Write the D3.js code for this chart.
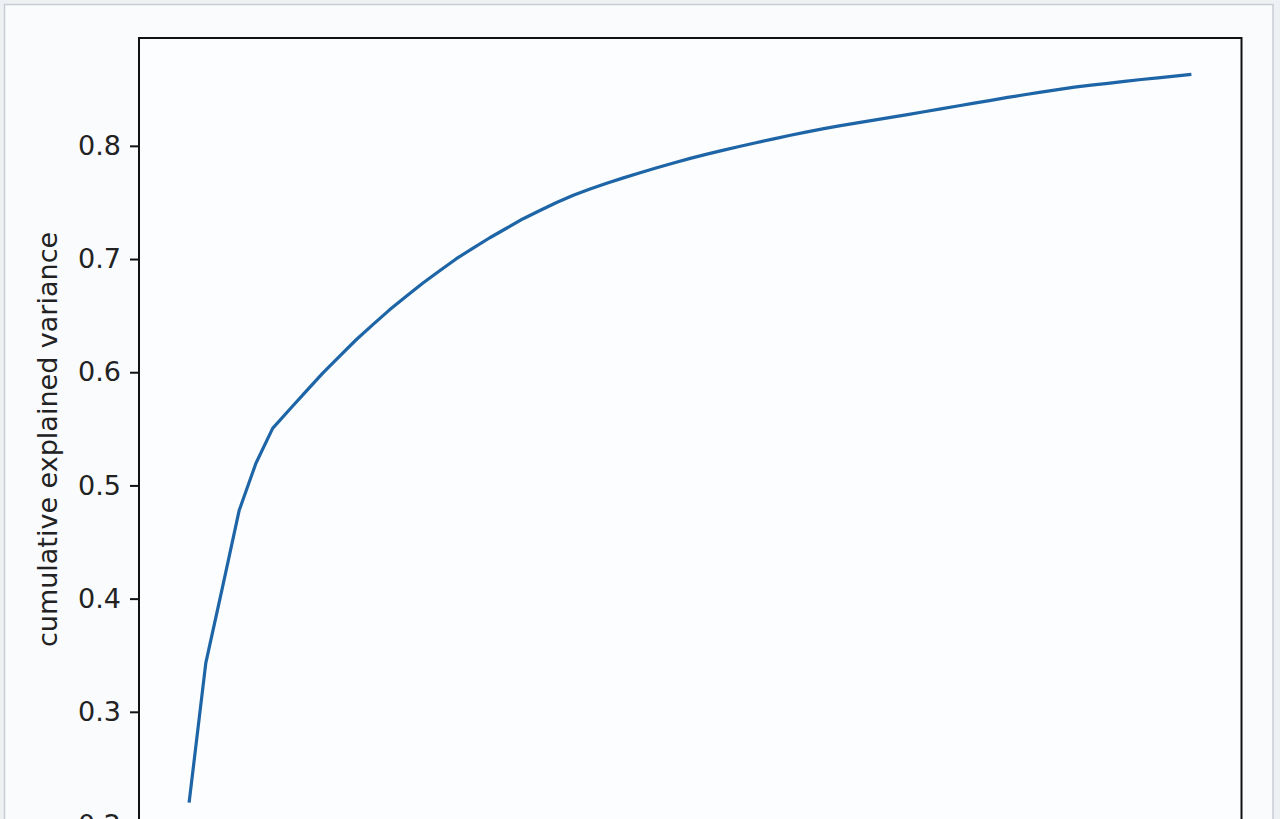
<!DOCTYPE html>
<html>
<head>
<meta charset="utf-8">
<script src="https://cdn.jsdelivr.net/npm/d3@7/dist/d3.min.js"></script>
<style>
  html, body { margin: 0; padding: 0; background: #eef1f4; overflow: hidden; }
  svg { display: block; }
  text { font-family: "DejaVu Sans", sans-serif; }
</style>
</head>
<body>
<svg id="chart" width="1280" height="819"></svg>
<script>
// number of components (index) and cumulative explained variance
const components = d3.range(0, 61);
const cumulativeVariance = [
  0.2198, 0.3432, 0.4102, 0.4781, 0.5196, 0.5504, 0.5669, 0.5831, 0.5992, 0.6141,
  0.6287, 0.6421, 0.6551, 0.6671, 0.6788, 0.6897, 0.7003, 0.7097, 0.7188, 0.7272,
  0.7356, 0.7429, 0.7499, 0.7563, 0.7619, 0.7670, 0.7717, 0.7763, 0.7807, 0.7849,
  0.7889, 0.7927, 0.7962, 0.7996, 0.8029, 0.8062, 0.8093, 0.8123, 0.8152, 0.8178,
  0.8203, 0.8227, 0.8251, 0.8276, 0.8301, 0.8326, 0.8352, 0.8377, 0.8402, 0.8428,
  0.8451, 0.8474, 0.8496, 0.8518, 0.8536, 0.8552, 0.8569, 0.8586, 0.8601, 0.8616,
  0.8631
];
const yTicks = [0.2, 0.3, 0.4, 0.5, 0.6, 0.7, 0.8];
const yLabel = "cumulative explained variance";

(function () {
  const svg = d3.select("#chart");

  // page frame
  svg.append("rect").attr("x", 0).attr("y", 0).attr("width", 1280).attr("height", 819).attr("fill", "#eef1f4");
  svg.append("rect")
    .attr("x", 4.5).attr("y", 4.5).attr("width", 1268.5).attr("height", 840)
    .attr("fill", "#f9fbfd").attr("stroke", "#c9cdd3").attr("stroke-width", 1.5);

  const pLeft = 139, pRight = 1241.5, pTop = 38, pBottom = 839;

  const n = components.length - 1;
  const x = d3.scaleLinear()
    .domain([components[0] - 0.05 * n, components[n] + 0.05 * n])
    .range([pLeft, pRight]);

  const yMin = d3.min(cumulativeVariance), yMax = d3.max(cumulativeVariance);
  const yPad = 0.05 * (yMax - yMin);
  const y = d3.scaleLinear()
    .domain([yMin - yPad, yMax + yPad])
    .range([pBottom, pTop]);

  // axes background
  svg.append("rect")
    .attr("x", pLeft).attr("y", pTop).attr("width", pRight - pLeft).attr("height", pBottom - pTop)
    .attr("fill", "#fcfdfe");

  // line
  const line = d3.line()
    .x((d, i) => x(components[i]))
    .y(d => y(d));

  svg.append("path")
    .datum(cumulativeVariance)
    .attr("fill", "none")
    .attr("stroke", "#1d65a6")
    .attr("stroke-width", 3.2)
    .attr("stroke-linejoin", "round")
    .attr("stroke-linecap", "butt")
    .attr("d", line);

  // y axis
  const yAxis = d3.axisLeft(y)
    .tickValues(yTicks)
    .tickFormat(d3.format(".1f"))
    .tickSize(9)
    .tickPadding(9);

  const gy = svg.append("g")
    .attr("transform", `translate(${pLeft},0)`)
    .call(yAxis);
  gy.select(".domain").remove();
  gy.selectAll(".tick line").attr("stroke", "#111").attr("stroke-width", 2);
  gy.selectAll(".tick text")
    .attr("fill", "#222")
    .style("font-size", "27px")
    .style("font-family", "'DejaVu Sans', sans-serif");

  // spines
  svg.append("rect")
    .attr("x", pLeft).attr("y", pTop).attr("width", pRight - pLeft).attr("height", pBottom - pTop)
    .attr("fill", "none").attr("stroke", "#111").attr("stroke-width", 2);

  // y label
  svg.append("text")
    .attr("transform", `translate(57,${(pTop + pBottom) / 2 + 1}) rotate(-90)`)
    .attr("text-anchor", "middle")
    .attr("fill", "#222")
    .style("font-size", "27px")
    .text(yLabel);
})();
</script>
</body>
</html>
